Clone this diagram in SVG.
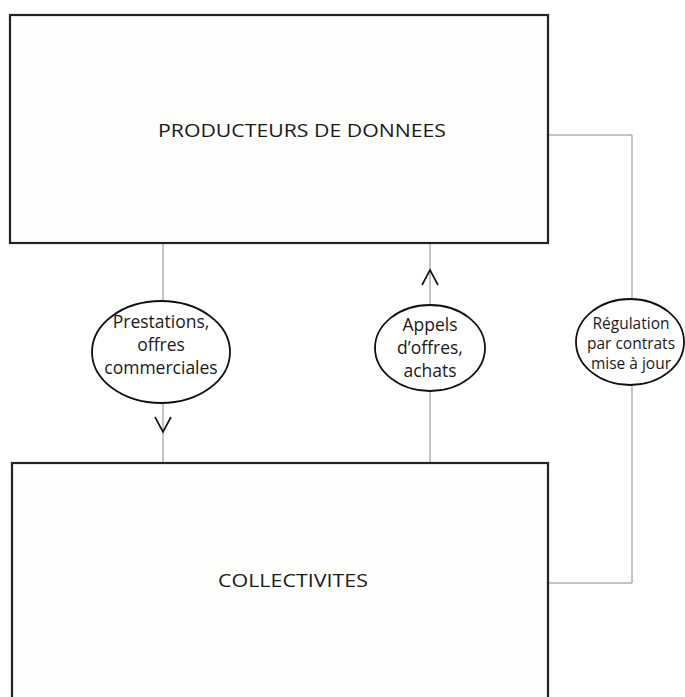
<svg xmlns="http://www.w3.org/2000/svg" width="685" height="697" viewBox="0 0 685 697">
<style>
.box{fill:#fefefc;stroke:#222;stroke-width:2.2}
.ell{fill:#fff;stroke:#111;stroke-width:1.8}
.conn{fill:none;stroke:#8a8a8a;stroke-width:1}
.chev{fill:none;stroke:#111;stroke-width:1.6}
text{font-family:"Open Sans","Noto Sans",sans-serif;fill:#1a1a1a;text-anchor:middle}
.big{font-size:18.5px}
.lbl{font-size:17.5px}
.sm{font-size:15.5px}
</style>
<rect width="685" height="697" fill="#fff"/>
<g id="connectors">
<line class="conn" x1="163" y1="243" x2="163" y2="463"/>
<line class="conn" x1="430" y1="243" x2="430" y2="463"/>
<polyline class="conn" points="548,135 632,135 632,583 548,583"/>
<polyline class="chev" points="155,417 163,432 171,417"/>
<polyline class="chev" points="422,285 430,270 438,285"/>
</g>
<g id="producteurs">
<rect class="box" x="10" y="15" width="538" height="228"/>
<text class="big" x="302" y="137" textLength="288" lengthAdjust="spacingAndGlyphs">PRODUCTEURS DE DONNEES</text>
</g>
<g id="collectivites">
<rect class="box" x="12" y="463" width="536" height="240"/>
<text class="big" x="293" y="587" textLength="150" lengthAdjust="spacingAndGlyphs">COLLECTIVITES</text>
</g>
<g id="prestations">
<ellipse class="ell" cx="161" cy="352" rx="69" ry="51"/>
<text class="lbl" x="161" y="328">Prestations,</text>
<text class="lbl" x="161" y="351">offres</text>
<text class="lbl" x="161" y="374">commerciales</text>
</g>
<g id="appels">
<ellipse class="ell" cx="430" cy="348" rx="55" ry="43"/>
<text class="lbl" x="430" y="331">Appels</text>
<text class="lbl" x="430" y="354">d’offres,</text>
<text class="lbl" x="430" y="377">achats</text>
</g>
<g id="regulation">
<ellipse class="ell" cx="630" cy="342" rx="54" ry="43"/>
<text class="sm" x="631" y="329">Régulation</text>
<text class="sm" x="631" y="349">par contrats</text>
<text class="sm" x="631" y="369">mise à jour</text>
</g>
</svg>
